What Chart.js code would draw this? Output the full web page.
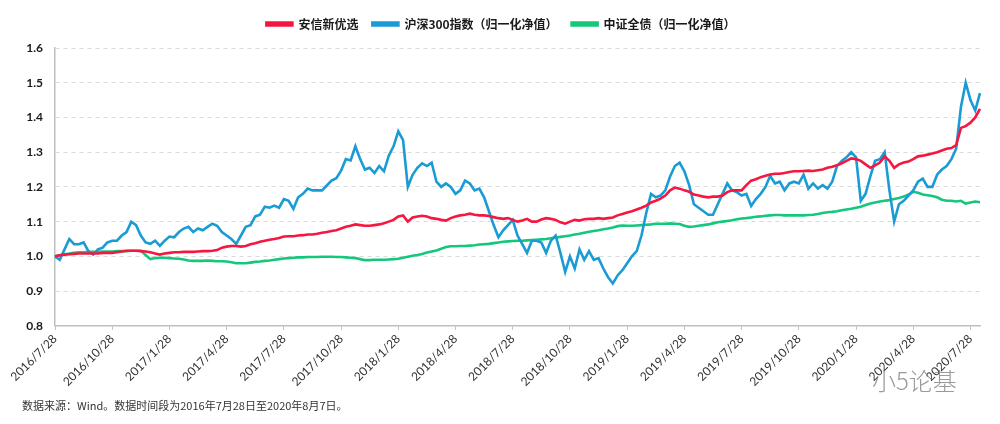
<!DOCTYPE html>
<html>
<head>
<meta charset="utf-8">
<script src="https://cdn.jsdelivr.net/npm/chart.js@4/dist/chart.umd.min.js"></script>
<style>
  html, body { margin: 0; padding: 0; background: #fff; }
  #wrap { width: 1000px; height: 424px; position: relative; }
</style>
</head>
<body>
<div id="wrap"><canvas id="myChart" width="1000" height="424"></canvas></div>
<script>
'use strict';

// quarter labels shown on the x axis (one every 12 samples)
let quarterLabels = ['2016/7/28', '2016/10/28', '2017/1/28', '2017/4/28', '2017/7/28', '2017/10/28',
  '2018/1/28', '2018/4/28', '2018/7/28', '2018/10/28', '2019/1/28', '2019/4/28', '2019/7/28',
  '2019/10/28', '2020/1/28', '2020/4/28', '2020/7/28'];
let samplesPerQuarter = 12;

let seriesNames = ['安信新优选', '沪深300指数（归一化净值）', '中证全债（归一化净值）'];

// 安信新优选
let fundNav = [
  1.0, 1.003, 1.005, 1.006, 1.007, 1.008, 1.008, 1.008, 1.008, 1.008, 1.01, 1.01,
  1.01, 1.012, 1.014, 1.016, 1.016, 1.016, 1.015, 1.014, 1.012, 1.008, 1.005, 1.008,
  1.01, 1.012, 1.012, 1.013, 1.013, 1.013, 1.014, 1.015, 1.015, 1.016, 1.018, 1.025,
  1.028, 1.03, 1.03, 1.028, 1.03, 1.035, 1.038, 1.042, 1.045, 1.048, 1.05, 1.053,
  1.057, 1.058, 1.058, 1.06, 1.061, 1.063, 1.063, 1.065, 1.068, 1.07, 1.073, 1.075,
  1.08, 1.085, 1.088, 1.092, 1.09, 1.088, 1.088, 1.09, 1.092, 1.095, 1.10, 1.105,
  1.115, 1.118, 1.10, 1.112, 1.115, 1.117, 1.115, 1.11, 1.108, 1.105, 1.103, 1.11,
  1.115, 1.118, 1.12, 1.123, 1.12, 1.118, 1.118, 1.116, 1.113, 1.11, 1.108, 1.11,
  1.105, 1.10, 1.103, 1.108, 1.10, 1.10, 1.106, 1.11, 1.108, 1.105, 1.098, 1.094,
  1.10, 1.105, 1.103, 1.107, 1.108, 1.108, 1.11, 1.108, 1.11, 1.112, 1.118, 1.122,
  1.126, 1.13, 1.135, 1.14, 1.146, 1.155, 1.16, 1.166, 1.175, 1.19, 1.198, 1.195,
  1.19, 1.186, 1.178, 1.175, 1.172, 1.17, 1.172, 1.172, 1.175, 1.185, 1.19, 1.19,
  1.19, 1.205, 1.218, 1.222, 1.228, 1.232, 1.236, 1.238, 1.238, 1.24, 1.243, 1.245,
  1.245, 1.246, 1.247, 1.246, 1.248, 1.25, 1.255, 1.258, 1.262, 1.268, 1.275, 1.282,
  1.28, 1.275, 1.265, 1.255, 1.262, 1.27, 1.288, 1.275, 1.255, 1.265, 1.27, 1.273,
  1.28, 1.288, 1.29, 1.293, 1.296, 1.30, 1.305, 1.31, 1.312, 1.32, 1.37, 1.375,
  1.385, 1.40, 1.425
];

// 沪深300 normalised
let hs300Nav = [
  1.00, 0.99, 1.02, 1.05, 1.035, 1.035, 1.04, 1.015, 1.005, 1.02, 1.025, 1.04,
  1.045, 1.045, 1.06, 1.07, 1.10, 1.09, 1.06, 1.04, 1.036, 1.045, 1.03, 1.045,
  1.057, 1.055, 1.07, 1.08, 1.085, 1.07, 1.08, 1.075, 1.085, 1.094, 1.088, 1.07,
  1.06, 1.05, 1.036, 1.06, 1.085, 1.09, 1.115, 1.12, 1.143, 1.14, 1.146, 1.14,
  1.165, 1.16, 1.137, 1.17, 1.18, 1.195, 1.19, 1.19, 1.19, 1.204, 1.218, 1.225,
  1.247, 1.28, 1.276, 1.317, 1.28, 1.25, 1.255, 1.24, 1.26, 1.245, 1.29, 1.317,
  1.36, 1.335, 1.20, 1.235, 1.255, 1.268, 1.26, 1.27, 1.215, 1.20, 1.21, 1.20,
  1.18, 1.19, 1.218, 1.21, 1.19, 1.195, 1.17, 1.13, 1.09, 1.055, 1.075, 1.09,
  1.105, 1.06, 1.035, 1.01, 1.045, 1.045, 1.04, 1.01, 1.045, 1.06, 1.01, 0.955,
  1.00, 0.965, 1.02, 0.99, 1.015, 0.99, 0.995, 0.965, 0.94, 0.922, 0.945, 0.96,
  0.98, 1.00, 1.015, 1.06, 1.125, 1.18, 1.17, 1.175, 1.19, 1.23, 1.26, 1.27,
  1.245, 1.205, 1.15, 1.14, 1.13, 1.12, 1.12, 1.15, 1.18, 1.21, 1.19, 1.185,
  1.175, 1.18, 1.145, 1.165, 1.18, 1.20, 1.232, 1.21, 1.215, 1.19, 1.21, 1.215,
  1.21, 1.235, 1.195, 1.21, 1.195, 1.205, 1.195, 1.215, 1.26, 1.275, 1.285, 1.30,
  1.285, 1.16, 1.18, 1.23, 1.275, 1.28, 1.30, 1.19, 1.10, 1.15, 1.16, 1.175,
  1.19, 1.215, 1.224, 1.20, 1.20, 1.235, 1.25, 1.26, 1.28, 1.31, 1.43, 1.50,
  1.45, 1.42, 1.47
];

// 中证全债 normalised
let bondNav = [
  1.0, 1.003, 1.006, 1.008, 1.01, 1.012, 1.012, 1.013, 1.013, 1.013, 1.014, 1.014,
  1.014, 1.015, 1.015, 1.015, 1.016, 1.016, 1.016, 1.004, 0.992, 0.995, 0.996, 0.996,
  0.995, 0.994, 0.993, 0.991, 0.988, 0.987, 0.987, 0.987, 0.988, 0.987, 0.986, 0.986,
  0.985, 0.983, 0.98, 0.98, 0.98, 0.982, 0.984, 0.985, 0.987, 0.988, 0.99, 0.992,
  0.994, 0.995, 0.996, 0.997, 0.997, 0.998, 0.998, 0.998, 0.999, 0.999, 0.999, 0.998,
  0.998, 0.997, 0.996, 0.995, 0.992, 0.989, 0.989, 0.99, 0.99, 0.99, 0.991, 0.992,
  0.993, 0.996, 0.999, 1.002, 1.004, 1.007, 1.011, 1.014, 1.017, 1.022, 1.027, 1.029,
  1.029, 1.03, 1.03, 1.031, 1.032, 1.034, 1.035, 1.036, 1.038, 1.04, 1.042, 1.043,
  1.044, 1.045, 1.045, 1.046, 1.047, 1.048, 1.049, 1.05, 1.052, 1.054, 1.056, 1.058,
  1.06, 1.063, 1.065, 1.068, 1.071, 1.073, 1.075, 1.078, 1.08, 1.083, 1.087, 1.089,
  1.088, 1.088, 1.089, 1.09, 1.091, 1.092, 1.094, 1.094, 1.094, 1.095, 1.094, 1.093,
  1.088, 1.085, 1.086, 1.088, 1.09, 1.092, 1.095, 1.098, 1.10, 1.102, 1.104, 1.107,
  1.109, 1.11, 1.112, 1.114, 1.115, 1.117, 1.118, 1.119, 1.119, 1.118, 1.118, 1.118,
  1.118, 1.118, 1.119, 1.12, 1.122, 1.125, 1.127, 1.128, 1.13, 1.133, 1.135, 1.137,
  1.14, 1.143, 1.148, 1.152, 1.155, 1.158, 1.16, 1.162, 1.165, 1.168, 1.172, 1.178,
  1.186, 1.183, 1.178, 1.176, 1.174, 1.17, 1.163, 1.16, 1.16, 1.158, 1.16, 1.152,
  1.155, 1.158, 1.156
];

let footNote = '数据来源：Wind。数据时间段为2016年7月28日至2020年8月7日。';
let watermark = '小5论基';

let sampleLabels = fundNav.map((v, i) => i);

let cnFont = "'Noto Sans CJK SC', 'Lato', sans-serif";
let numFont = "'Lato', 'Liberation Sans', sans-serif";

// push the plot down a bit under the legend
let legendSpacer = {
  id: 'legendSpacer',
  beforeInit(chart) {
    let origFit = chart.legend.fit;
    chart.legend.fit = function () {
      origFit.bind(chart.legend)();
      this.height += 8;
    };
  }
};

let watermarkPlugin = {
  id: 'watermark',
  afterDraw(chart) {
    let ctx = chart.ctx;
    ctx.save();
    ctx.font = "300 24px 'Noto Sans CJK SC', sans-serif";
    ctx.fillStyle = 'rgba(120,120,120,0.75)';
    ctx.textBaseline = 'middle';
    ctx.fillText(watermark, 872, 381);
    ctx.restore();
  }
};

function lineSet(label, data, color) {
  return {
    label: label,
    data: data,
    borderColor: color,
    backgroundColor: color,
    borderWidth: 2.6,
    pointRadius: 0,
    tension: 0
  };
}

let chartObject = {
  type: 'line',
  data: {
    labels: sampleLabels,
    datasets: [
      lineSet(seriesNames[0], fundNav, '#f5173f'),
      lineSet(seriesNames[1], hs300Nav, '#1b9bd4'),
      lineSet(seriesNames[2], bondNav, '#14c77a')
    ]
  },
  plugins: [legendSpacer, watermarkPlugin],
  options: {
    responsive: false,
    animation: false,
    layout: { padding: { left: 22, right: 20, top: 4, bottom: 0 } },
    plugins: {
      legend: {
        position: 'top',
        labels: {
          boxWidth: 26,
          boxHeight: 3,
          padding: 14,
          color: '#1a1a1a',
          font: { family: cnFont, size: 12, weight: 'bold' }
        }
      },
      title: {
        display: true,
        position: 'bottom',
        align: 'start',
        text: footNote,
        color: '#333',
        font: { family: cnFont, size: 11, weight: 'normal' },
        padding: { top: 0, bottom: 12 }
      },
      tooltip: { enabled: false }
    },
    scales: {
      x: {
        type: 'category',
        afterFit(scale) { scale.height = 73; },
        grid: {
          drawOnChartArea: false,
          drawTicks: true,
          tickLength: 4,
          tickColor: (c) => (c.index % samplesPerQuarter === 0 ? '#bfbfbf' : 'rgba(0,0,0,0)')
        },
        border: { display: true, color: '#bfbfbf', width: 1.5 },
        ticks: {
          autoSkip: false,
          maxRotation: 45,
          minRotation: 45,
          padding: 2,
          color: '#333',
          font: { family: numFont, size: 12 },
          callback: (val, i) => (i % samplesPerQuarter === 0 ? quarterLabels[i / samplesPerQuarter] : '')
        }
      },
      y: {
        min: 0.8,
        max: 1.6,
        afterFit(scale) { scale.width = 33; },
        grid: { color: '#d9d9d9', lineWidth: 1, drawTicks: false },
        border: { display: true, color: '#bfbfbf', width: 1.5, dash: [4, 4] },
        ticks: {
          stepSize: 0.1,
          padding: 12,
          color: '#1a1a1a',
          font: { family: numFont, size: 12, weight: 'bold' },
          callback: (v) => v.toFixed(1)
        }
      }
    }
  }
};

let ctx = document.getElementById('myChart').getContext('2d');
let myChart = new Chart(ctx, chartObject);
</script>
</body>
</html>
